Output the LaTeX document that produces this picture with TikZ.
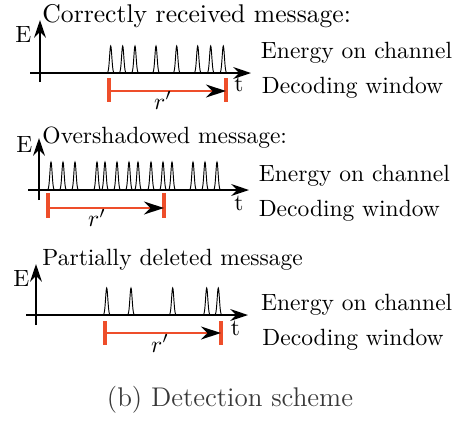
\documentclass[tikz,border=0pt]{standalone}
\usetikzlibrary{arrows.meta}
\definecolor{winred}{RGB}{238,78,42}
\begin{document}
\begin{tikzpicture}[x=0.4255pt,y=-0.4255pt,
  axis/.style={line width=0.9pt,-{Stealth[length=7.5pt,width=5pt]}},
  pulse/.style={line width=0.4pt},
  wtick/.style={winred,line width=1.3pt},
  win/.style={winred,line width=0.8pt,-{Stealth[black,length=8.5pt,width=5.5pt]}},
  lbl/.style={inner sep=0pt,anchor=base west},
  captext/.style={inner sep=0pt,anchor=base,font=\fontsize{11.5}{13}\selectfont,text=black!78}]
\useasboundingbox (0,0) rectangle (459,423);

% ---------- Panel 1 ----------
\node[lbl,font=\fontsize{10.9}{13}\selectfont] (t1) at (42,22) {Correctly received message:};
\node[lbl] (e1) at (15,42.5) {E};
\coordinate (v1b) at (40,82); \coordinate (v1t) at (40,20);
\coordinate (h1l) at (30,73); \coordinate (h1r) at (251,73);
\draw[axis] (v1b) -- (v1t);
\draw[axis] (h1l) -- (h1r);
\node[lbl] (tt1) at (234,91.5) {t};
\foreach \p in {110.7,122.7,135,156,176.7,197.7,210.7,223.3}
  \draw[pulse] plot[domain=-4:4,samples=33,smooth] ({\p+\x},{73-27*exp(-\x*\x/2.5)});
\coordinate (a1t) at (109,78); \coordinate (a1b) at (109,102);
\coordinate (b1t) at (226,78); \coordinate (b1b) at (226,102);
\coordinate (a1) at (109,91); \coordinate (b1) at (226,91);
\draw[wtick] (a1t) -- (a1b);
\draw[wtick] (b1t) -- (b1b);
\draw[win] (a1) -- (b1);
\node[inner sep=0pt,anchor=base] (r1) at (163,109) {$r'$};
\node[lbl] (en1) at (260.5,58) {Energy on channel};
\node[lbl] (dw1) at (261.5,93) {Decoding window};

% ---------- Panel 2 ----------
\node[lbl] (t2) at (42,143.3) {Overshadowed message:};
\node[lbl] (e2) at (16,152.7) {E};
\coordinate (v2b) at (39,200); \coordinate (v2t) at (39,138);
\coordinate (h2l) at (28,190); \coordinate (h2r) at (249,190);
\draw[axis] (v2b) -- (v2t);
\draw[axis] (h2l) -- (h2r);
\node[lbl] (tt2) at (234,210) {t};
\foreach \p in {51,63,75,97,105,117,129,138,151,163,172,193,205,217}
  \draw[pulse] plot[domain=-4:4,samples=33,smooth] ({\p+\x},{190-28*exp(-\x*\x/2.5)});
\coordinate (a2t) at (48,193); \coordinate (a2b) at (48,218);
\coordinate (b2t) at (164,193); \coordinate (b2b) at (164,218);
\coordinate (a2) at (48,208); \coordinate (b2) at (164,208);
\draw[wtick] (a2t) -- (a2b);
\draw[wtick] (b2t) -- (b2b);
\draw[win] (a2) -- (b2);
\node[inner sep=0pt,anchor=base] (r2) at (97,226.7) {$r'$};
\node[lbl] (en2) at (258.3,181.5) {Energy on channel};
\node[lbl] (dw2) at (258.3,216.7) {Decoding window};

% ---------- Panel 3 ----------
\node[lbl] (t3) at (42,265) {Partially deleted message};
\node[lbl] (e3) at (13,286.7) {E};
\coordinate (v3b) at (36,325); \coordinate (v3t) at (36,264);
\coordinate (h3l) at (26,315); \coordinate (h3r) at (248,315);
\draw[axis] (v3b) -- (v3t);
\draw[axis] (h3l) -- (h3r);
\node[lbl] (tt3) at (230.5,335) {t};
\foreach \p in {106.7,131,172.7,206.7,218.3}
  \draw[pulse] plot[domain=-4:4,samples=33,smooth] ({\p+\x},{315-27*exp(-\x*\x/2.5)});
\coordinate (a3t) at (105,321); \coordinate (a3b) at (105,345);
\coordinate (b3t) at (221,321); \coordinate (b3b) at (221,345);
\coordinate (a3) at (105,333); \coordinate (b3) at (221,333);
\draw[wtick] (a3t) -- (a3b);
\draw[wtick] (b3t) -- (b3b);
\draw[win] (a3) -- (b3);
\node[inner sep=0pt,anchor=base] (r3) at (160,352) {$r'$};
\node[lbl] (en3) at (260.7,310) {Energy on channel};
\node[lbl] (dw3) at (262,345) {Decoding window};

% ---------- Caption ----------
\node[captext] (capt) at (230,406.7) {(b) Detection scheme};
\end{tikzpicture}
\end{document}
